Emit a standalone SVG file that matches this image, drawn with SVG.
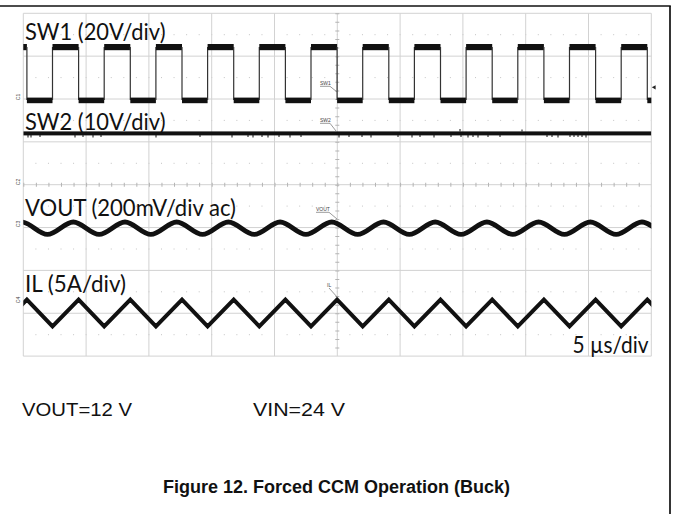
<svg xmlns="http://www.w3.org/2000/svg" width="673" height="514" viewBox="0 0 673 514">
<style>
.grid{stroke:#d2d2d2;stroke-width:1;fill:none}
.dots{stroke:#c4c4c4;stroke-width:1;stroke-dasharray:1 11.56;fill:none}
.lbl{font-family:Lato,"Open Sans",sans-serif;font-size:24px;fill:#111}
.tiny{font-family:"Liberation Sans",Arial,sans-serif;font-size:5px;fill:#444}
.lead{stroke:#555;stroke-width:0.6;fill:none}
.cap{font-family:"Liberation Sans",Arial,sans-serif;font-size:18px;fill:#111}
.edge{stroke:#333;stroke-width:1.2}
</style>
<defs>
<clipPath id="scr"><rect x="23.3" y="13.3" width="628" height="342.8"/></clipPath>
<g id="sw1period">
<rect x="0" y="44" width="26.1" height="6.2" fill="#111"/>
<line class="edge" x1="26.1" y1="47" x2="26.1" y2="100"/>
<rect x="26.1" y="97.6" width="25.6" height="5.6" fill="#111"/>
<line class="edge" x1="51.7" y1="47" x2="51.7" y2="100"/>
</g>
</defs>
<rect width="673" height="514" fill="#fff"/>
<!-- outer frame -->
<line x1="0" y1="6" x2="670.8" y2="6" stroke="#111" stroke-width="1.7"/>
<line x1="670" y1="6" x2="670" y2="514" stroke="#111" stroke-width="1.7"/>
<!-- graticule -->
<g id="graticule">
<path class="dots" d="M35.4,34.7H651M35.4,77.6H651M35.4,120.4H651M35.4,163.3H651M35.4,206.1H651M35.4,249H651M35.4,291.8H651M35.4,334.7H651"/>
<path class="grid" d="M23.3,13.3V356.1M86.1,13.3V356.1M148.9,13.3V356.1M211.7,13.3V356.1M274.5,13.3V356.1M337.3,13.3V356.1M400.1,13.3V356.1M462.9,13.3V356.1M525.7,13.3V356.1M588.5,13.3V356.1M651.3,13.3V356.1"/>
<path class="grid" d="M23.3,13.3H651.3M23.3,56.15H651.3M23.3,99H651.3M23.3,141.85H651.3M23.3,184.7H651.3M23.3,227.55H651.3M23.3,270.4H651.3M23.3,313.25H651.3M23.3,356.1H651.3"/>
<line x1="337.3" y1="13.3" x2="337.3" y2="356.1" stroke="#b4b4b4" stroke-width="4" stroke-dasharray="1 7.57"/>
<line x1="23.3" y1="184.7" x2="651.3" y2="184.7" stroke="#b4b4b4" stroke-width="4" stroke-dasharray="1 11.56"/>
</g>
<!-- waveforms -->
<g id="traces" clip-path="url(#scr)">
<g id="sw1">
<use href="#sw1period" x="0.8"/>
<use href="#sw1period" x="52.5"/>
<use href="#sw1period" x="104.2"/>
<use href="#sw1period" x="155.9"/>
<use href="#sw1period" x="207.6"/>
<use href="#sw1period" x="259.3"/>
<use href="#sw1period" x="311"/>
<use href="#sw1period" x="362.7"/>
<use href="#sw1period" x="414.4"/>
<use href="#sw1period" x="466.1"/>
<use href="#sw1period" x="517.8"/>
<use href="#sw1period" x="569.5"/>
<use href="#sw1period" x="621.2"/>
</g>
<g id="sw2">
<rect x="23.3" y="131.4" width="628" height="4" fill="#111"/>
<path d="M28,135v2.5M31,135v2.5M40,135v2M75,135v2.5M83,135v2M93,135v2.5M101,135v2M156,135v2.5M200,135v2M232,135v2.5M248,135v2M253,135v2.5M262,135v2M268,135v2.5M279,135v2M290,135v2.5M301,135v2M339,135v2.5M349,135v2M362,135v2M371,135v2.5M398,135v2M412,135v2.5M420,135v2M434,135v2.5M451,135v2M461,135v2M468,135v2.5M473,135v2M478,135v2.5M488,135v2M500,135v2M547,135v2M552,135v2M558,135v2.5M570,135v2M574,135v2M578,135v2M582,135v2M586,135v2.5M460,131.5v-2.5M522,131.5v-2" stroke="#111" stroke-width="1"/>
</g>
<path id="vout" d="M21.6,222c8.617,0 17.233,12.4 25.85,12.4c8.617,0 17.233,-12.4 25.85,-12.4c8.617,0 17.233,12.4 25.85,12.4c8.617,0 17.233,-12.4 25.85,-12.4c8.617,0 17.233,12.4 25.85,12.4c8.617,0 17.233,-12.4 25.85,-12.4c8.617,0 17.233,12.4 25.85,12.4c8.617,0 17.233,-12.4 25.85,-12.4c8.617,0 17.233,12.4 25.85,12.4c8.617,0 17.233,-12.4 25.85,-12.4c8.617,0 17.233,12.4 25.85,12.4c8.617,0 17.233,-12.4 25.85,-12.4c8.617,0 17.233,12.4 25.85,12.4c8.617,0 17.233,-12.4 25.85,-12.4c8.617,0 17.233,12.4 25.85,12.4c8.617,0 17.233,-12.4 25.85,-12.4c8.617,0 17.233,12.4 25.85,12.4c8.617,0 17.233,-12.4 25.85,-12.4c8.617,0 17.233,12.4 25.85,12.4c8.617,0 17.233,-12.4 25.85,-12.4c8.617,0 17.233,12.4 25.85,12.4c8.617,0 17.233,-12.4 25.85,-12.4c8.617,0 17.233,12.4 25.85,12.4c8.617,0 17.233,-12.4 25.85,-12.4c8.617,0 17.233,12.4 25.85,12.4c8.617,0 17.233,-12.4 25.85,-12.4" fill="none" stroke="#111" stroke-width="4.8"/>
<path id="il" d="M0.8,326.4l26.1,-26.8l25.6,26.8l26.1,-26.8l25.6,26.8l26.1,-26.8l25.6,26.8l26.1,-26.8l25.6,26.8l26.1,-26.8l25.6,26.8l26.1,-26.8l25.6,26.8l26.1,-26.8l25.6,26.8l26.1,-26.8l25.6,26.8l26.1,-26.8l25.6,26.8l26.1,-26.8l25.6,26.8l26.1,-26.8l25.6,26.8l26.1,-26.8l25.6,26.8l26.1,-26.8l25.6,26.8" fill="none" stroke="#111" stroke-width="4"/>
</g>
<!-- trigger marker -->
<polygon points="651.8,87.3 655.6,85.2 655.6,89.4" fill="#222"/>
<!-- channel markers -->
<g id="chmarks">
<text class="tiny" transform="translate(20,97) rotate(-90)" text-anchor="middle">C1</text>
<text class="tiny" transform="translate(20,182) rotate(-90)" text-anchor="middle">C2</text>
<text class="tiny" transform="translate(20,224) rotate(-90)" text-anchor="middle">C3</text>
<text class="tiny" transform="translate(20,300) rotate(-90)" text-anchor="middle">C4</text>
</g>
<!-- small trace labels -->
<g id="tracelabels">
<text class="tiny" x="320" y="85">SW1</text>
<path class="lead" d="M320,86.3H330L337,92"/>
<text class="tiny" x="320" y="122">SW2</text>
<path class="lead" d="M320,123.3H330L336,131"/>
<text class="tiny" x="316" y="211">VOUT</text>
<path class="lead" d="M316,212.3H329L337,219"/>
<text class="tiny" x="327" y="287">IL</text>
<path class="lead" d="M329,288L338,298"/>
</g>
<!-- big labels -->
<text class="lbl" x="25" y="39.5" textLength="140.5" lengthAdjust="spacingAndGlyphs">SW1 (20V/div)</text>
<text class="lbl" x="25" y="129.5" textLength="140.5" lengthAdjust="spacingAndGlyphs">SW2 (10V/div)</text>
<text class="lbl" x="25" y="215.5" textLength="211" lengthAdjust="spacingAndGlyphs">VOUT (200mV/div ac)</text>
<text class="lbl" x="25" y="291.5" textLength="101" lengthAdjust="spacingAndGlyphs">IL (5A/div)</text>
<text class="lbl" x="572.5" y="352.5" textLength="76" lengthAdjust="spacingAndGlyphs">5 µs/div</text>
<!-- bottom texts -->
<text class="cap" x="22" y="416" font-size="20" textLength="110" lengthAdjust="spacingAndGlyphs">VOUT=12 V</text>
<text class="cap" x="253" y="416" font-size="20" textLength="92" lengthAdjust="spacingAndGlyphs">VIN=24 V</text>
<text class="cap" x="163" y="493" font-weight="bold">Figure 12. Forced CCM Operation (Buck)</text>
</svg>
